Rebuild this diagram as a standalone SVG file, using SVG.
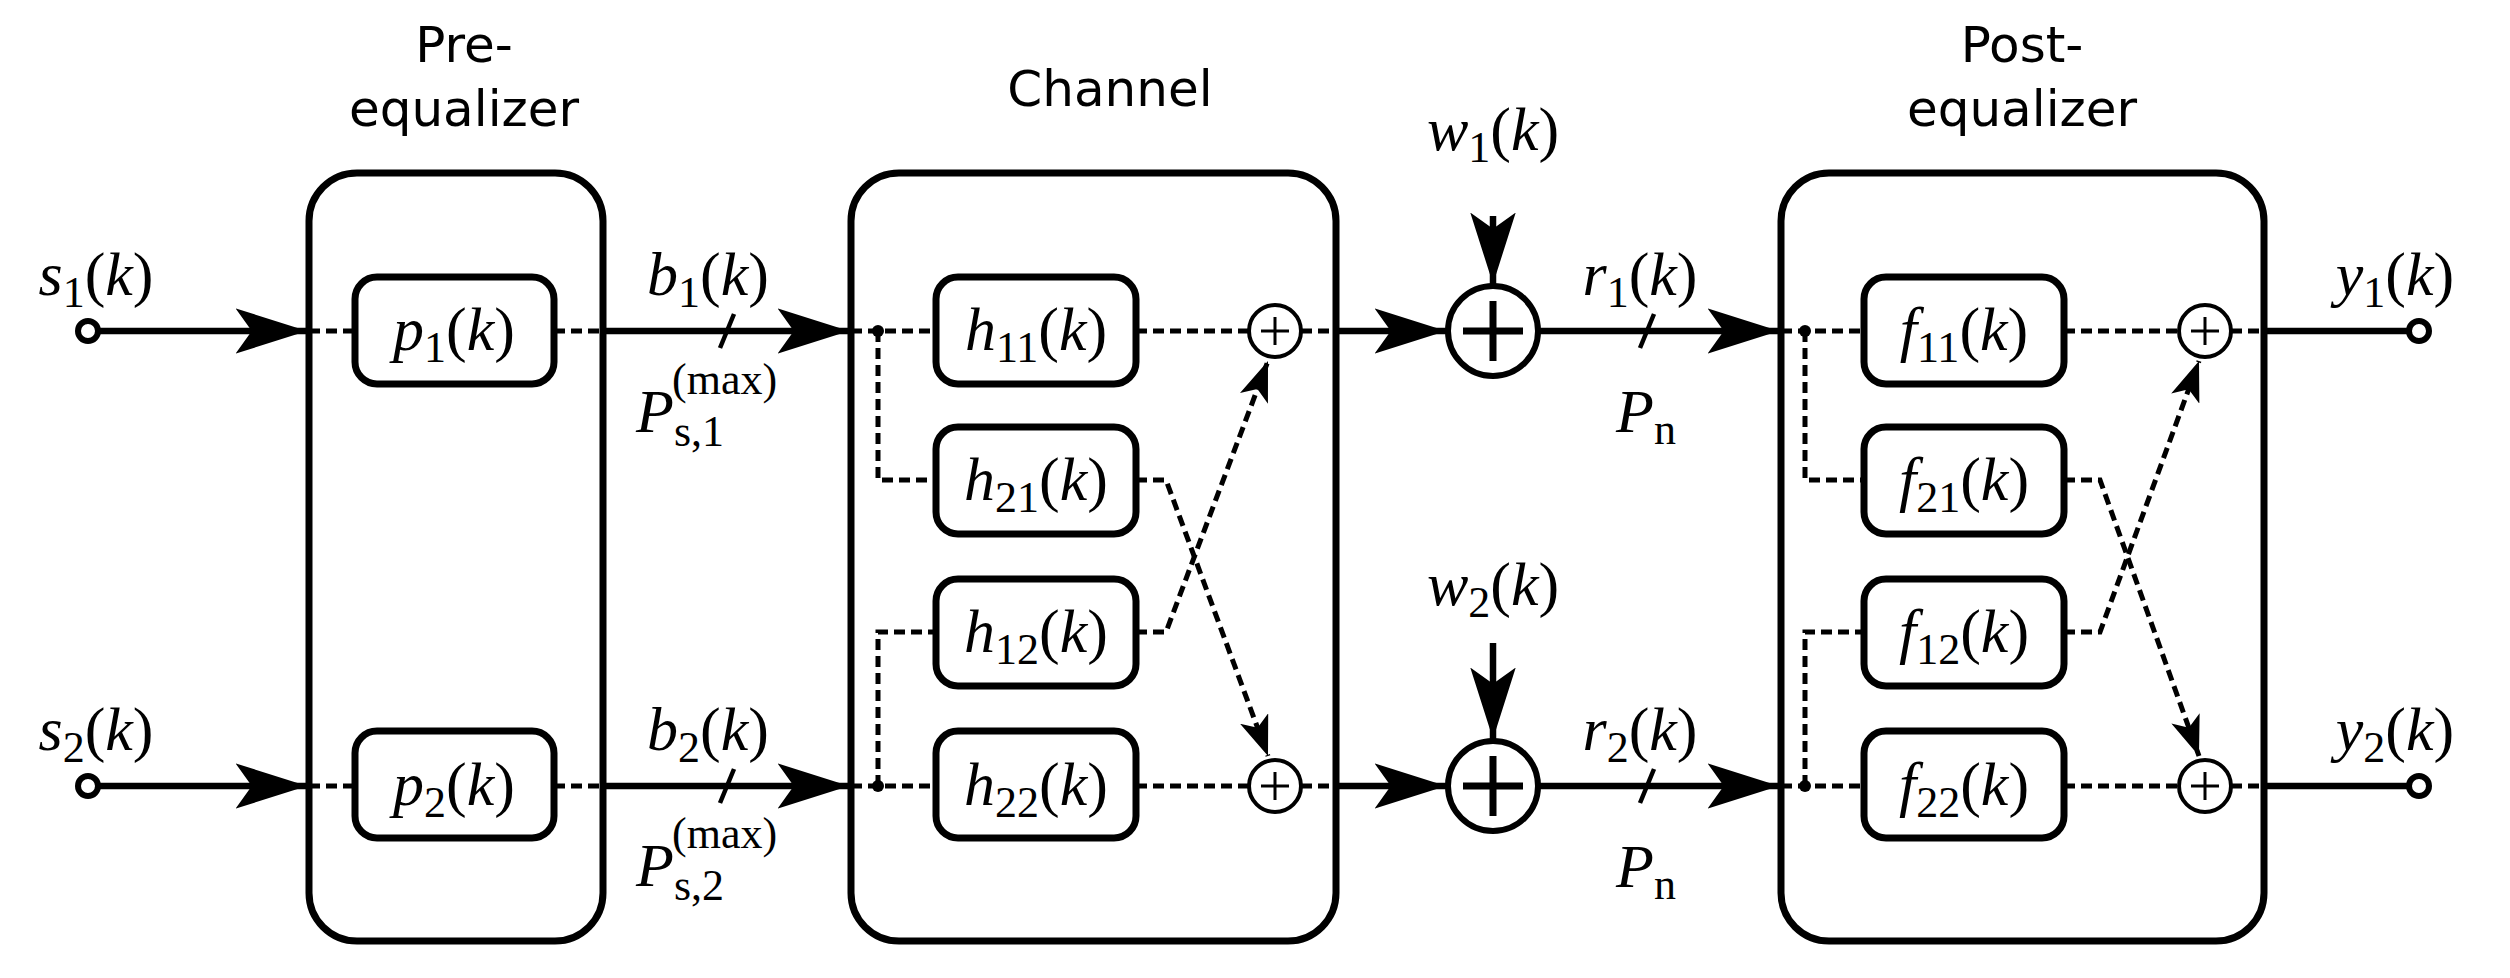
<svg xmlns="http://www.w3.org/2000/svg" width="2510" height="978" viewBox="0 0 2510 978">
<defs>
<marker id="ah" markerWidth="11" markerHeight="7" refX="11" refY="3.5" orient="auto" markerUnits="strokeWidth"><path d="M0,0 L11,3.5 L0,7 L2.5,3.5 z" fill="#000"/></marker>
<marker id="ahd" markerWidth="8" markerHeight="6" refX="8" refY="3" orient="auto" markerUnits="strokeWidth"><path d="M0,0 L8,3 L0,6 L2,3 z" fill="#000"/></marker>
<style>
.box{fill:none;stroke:#000;stroke-width:7}
.blk{fill:#fff;stroke:#000;stroke-width:7}
.s{fill:none;stroke:#000;stroke-width:6.5}
.d{fill:none;stroke:#000;stroke-width:5;stroke-dasharray:11 6}
.t{font-family:"DejaVu Sans","Liberation Sans",sans-serif;font-size:50px;text-anchor:middle}
.m{font-family:"Liberation Serif",serif;font-style:italic;font-size:62px;text-anchor:middle}
.ms{font-family:"Liberation Serif",serif;font-style:italic;font-size:62px;text-anchor:start}
.n{font-style:normal}
.sub{font-size:44px}
.tick{stroke:#000;stroke-width:4.5}
</style>
</defs>
<rect width="2510" height="978" fill="#fff"/>
<g id="labels">
<text class="t" x="464" y="62">Pre-</text>
<text class="t" x="464" y="126">equalizer</text>
<text class="t" x="1110" y="106">Channel</text>
<text class="t" x="2022" y="62">Post-</text>
<text class="t" x="2022" y="126">equalizer</text>
</g>
<g id="pre-equalizer"><rect class="box" x="309" y="173" width="294" height="768" rx="48"/></g>
<g id="channel"><rect class="box" x="851" y="173" width="485" height="768" rx="48"/></g>
<g id="post-equalizer"><rect class="box" x="1781" y="173" width="483" height="768" rx="48"/></g>
<g id="connectors">
<circle cx="88" cy="331" r="10" fill="#fff" stroke="#000" stroke-width="6"/>
<circle cx="88" cy="786" r="10" fill="#fff" stroke="#000" stroke-width="6"/>
<path class="s" d="M98,331 H307" marker-end="url(#ah)"/>
<path class="s" d="M98,786 H307" marker-end="url(#ah)"/>
<path class="d" d="M309,331 H355 M554,331 H603 M309,786 H355 M554,786 H603"/>
<path class="s" d="M603,331 H849" marker-end="url(#ah)"/>
<path class="s" d="M603,786 H849" marker-end="url(#ah)"/>
<line class="tick" x1="720" y1="348" x2="734" y2="314"/>
<line class="tick" x1="720" y1="803" x2="734" y2="769"/>
<path class="d" d="M851,331 H936 M878,331 V480 H936 M851,786 H936 M878,786 V632 H936"/>
<circle cx="878" cy="331" r="6"/><circle cx="878" cy="786" r="6"/>
<path class="d" d="M1136,331 H1249 M1136,786 H1249 M1301,331 H1336 M1301,786 H1336"/>
<path class="d" d="M1136,480 H1166 L1268,756" marker-end="url(#ahd)"/>
<path class="d" d="M1136,632 H1166 L1268,361" marker-end="url(#ahd)"/>
<path class="s" d="M1336,331 H1446" marker-end="url(#ah)"/>
<path class="s" d="M1336,786 H1446" marker-end="url(#ah)"/>
<path class="s" d="M1493,216 V284" marker-end="url(#ah)"/>
<path class="s" d="M1493,643 V739" marker-end="url(#ah)"/>
<path class="s" d="M1538,331 H1779" marker-end="url(#ah)"/>
<path class="s" d="M1538,786 H1779" marker-end="url(#ah)"/>
<line class="tick" x1="1640" y1="348" x2="1654" y2="314"/>
<line class="tick" x1="1640" y1="803" x2="1654" y2="769"/>
<path class="d" d="M1781,331 H1864 M1805,331 V480 H1864 M1781,786 H1864 M1805,786 V632 H1864"/>
<circle cx="1805" cy="331" r="6"/><circle cx="1805" cy="786" r="6"/>
<path class="d" d="M2064,331 H2179 M2064,786 H2179 M2231,331 H2264 M2231,786 H2264"/>
<path class="d" d="M2064,480 H2100 L2199,756" marker-end="url(#ahd)"/>
<path class="d" d="M2064,632 H2100 L2199,361" marker-end="url(#ahd)"/>
<path class="s" d="M2264,331 H2409 M2264,786 H2409"/>
<circle cx="2419" cy="331" r="10" fill="#fff" stroke="#000" stroke-width="6"/>
<circle cx="2419" cy="786" r="10" fill="#fff" stroke="#000" stroke-width="6"/>
</g>
<g id="p1"><rect class="blk" x="355" y="277" width="199" height="107" rx="22"/><text class="m" x="454" y="350">p<tspan class="sub n" dy="12">1</tspan><tspan class="n" dy="-12">(</tspan>k<tspan class="n">)</tspan></text></g>
<g id="p2"><rect class="blk" x="355" y="731" width="199" height="107" rx="22"/><text class="m" x="454" y="805">p<tspan class="sub n" dy="12">2</tspan><tspan class="n" dy="-12">(</tspan>k<tspan class="n">)</tspan></text></g>
<g id="h11"><rect class="blk" x="936" y="277" width="200" height="107" rx="22"/><text class="m" x="1036" y="350">h<tspan class="sub n" dy="12">11</tspan><tspan class="n" dy="-12">(</tspan>k<tspan class="n">)</tspan></text></g>
<g id="h21"><rect class="blk" x="936" y="427" width="200" height="107" rx="22"/><text class="m" x="1036" y="500">h<tspan class="sub n" dy="12">21</tspan><tspan class="n" dy="-12">(</tspan>k<tspan class="n">)</tspan></text></g>
<g id="h12"><rect class="blk" x="936" y="579" width="200" height="107" rx="22"/><text class="m" x="1036" y="652">h<tspan class="sub n" dy="12">12</tspan><tspan class="n" dy="-12">(</tspan>k<tspan class="n">)</tspan></text></g>
<g id="h22"><rect class="blk" x="936" y="731" width="200" height="107" rx="22"/><text class="m" x="1036" y="805">h<tspan class="sub n" dy="12">22</tspan><tspan class="n" dy="-12">(</tspan>k<tspan class="n">)</tspan></text></g>
<g id="f11"><rect class="blk" x="1864" y="277" width="200" height="107" rx="22"/><text class="m" x="1964" y="350">f<tspan class="sub n" dy="12">11</tspan><tspan class="n" dy="-12">(</tspan>k<tspan class="n">)</tspan></text></g>
<g id="f21"><rect class="blk" x="1864" y="427" width="200" height="107" rx="22"/><text class="m" x="1964" y="500">f<tspan class="sub n" dy="12">21</tspan><tspan class="n" dy="-12">(</tspan>k<tspan class="n">)</tspan></text></g>
<g id="f12"><rect class="blk" x="1864" y="579" width="200" height="107" rx="22"/><text class="m" x="1964" y="652">f<tspan class="sub n" dy="12">12</tspan><tspan class="n" dy="-12">(</tspan>k<tspan class="n">)</tspan></text></g>
<g id="f22"><rect class="blk" x="1864" y="731" width="200" height="107" rx="22"/><text class="m" x="1964" y="805">f<tspan class="sub n" dy="12">22</tspan><tspan class="n" dy="-12">(</tspan>k<tspan class="n">)</tspan></text></g>
<g id="sum-c1"><circle cx="1275" cy="331" r="26" fill="#fff" stroke="#000" stroke-width="4"/><path d="M1261,331 H1289 M1275,317 V345" stroke="#000" stroke-width="3"/></g>
<g id="sum-c2"><circle cx="1275" cy="786" r="26" fill="#fff" stroke="#000" stroke-width="4"/><path d="M1261,786 H1289 M1275,772 V800" stroke="#000" stroke-width="3"/></g>
<g id="sum-f1"><circle cx="2205" cy="331" r="26" fill="#fff" stroke="#000" stroke-width="4"/><path d="M2191,331 H2219 M2205,317 V345" stroke="#000" stroke-width="3"/></g>
<g id="sum-f2"><circle cx="2205" cy="786" r="26" fill="#fff" stroke="#000" stroke-width="4"/><path d="M2191,786 H2219 M2205,772 V800" stroke="#000" stroke-width="3"/></g>
<g id="noise1"><circle cx="1493" cy="331" r="45" fill="#fff" stroke="#000" stroke-width="6"/><path d="M1463,331 H1523 M1493,301 V361" stroke="#000" stroke-width="7"/></g>
<g id="noise2"><circle cx="1493" cy="786" r="45" fill="#fff" stroke="#000" stroke-width="6"/><path d="M1463,786 H1523 M1493,756 V816" stroke="#000" stroke-width="7"/></g>
<g id="mathlabels">
<text class="m" x="96" y="295">s<tspan class="sub n" dy="12">1</tspan><tspan class="n" dy="-12">(</tspan>k<tspan class="n">)</tspan></text>
<text class="m" x="96" y="750">s<tspan class="sub n" dy="12">2</tspan><tspan class="n" dy="-12">(</tspan>k<tspan class="n">)</tspan></text>
<text class="m" x="708" y="295">b<tspan class="sub n" dy="12">1</tspan><tspan class="n" dy="-12">(</tspan>k<tspan class="n">)</tspan></text>
<text class="m" x="708" y="750">b<tspan class="sub n" dy="12">2</tspan><tspan class="n" dy="-12">(</tspan>k<tspan class="n">)</tspan></text>
<text class="ms" x="636" y="432">P<tspan class="sub n" dy="14">s,1</tspan><tspan class="sub n" dx="-52" dy="-52">(max)</tspan></text>
<text class="ms" x="636" y="886">P<tspan class="sub n" dy="14">s,2</tspan><tspan class="sub n" dx="-52" dy="-52">(max)</tspan></text>
<text class="m" x="1493" y="150">w<tspan class="sub n" dy="12">1</tspan><tspan class="n" dy="-12">(</tspan>k<tspan class="n">)</tspan></text>
<text class="m" x="1493" y="605">w<tspan class="sub n" dy="12">2</tspan><tspan class="n" dy="-12">(</tspan>k<tspan class="n">)</tspan></text>
<text class="m" x="1640" y="295">r<tspan class="sub n" dy="12">1</tspan><tspan class="n" dy="-12">(</tspan>k<tspan class="n">)</tspan></text>
<text class="m" x="1640" y="750">r<tspan class="sub n" dy="12">2</tspan><tspan class="n" dy="-12">(</tspan>k<tspan class="n">)</tspan></text>
<text class="m" x="1646" y="432">P<tspan class="sub n" dy="12">n</tspan></text>
<text class="m" x="1646" y="887">P<tspan class="sub n" dy="12">n</tspan></text>
<text class="m" x="2395" y="295">y<tspan class="sub n" dy="12">1</tspan><tspan class="n" dy="-12">(</tspan>k<tspan class="n">)</tspan></text>
<text class="m" x="2395" y="750">y<tspan class="sub n" dy="12">2</tspan><tspan class="n" dy="-12">(</tspan>k<tspan class="n">)</tspan></text>
</g>
</svg>
